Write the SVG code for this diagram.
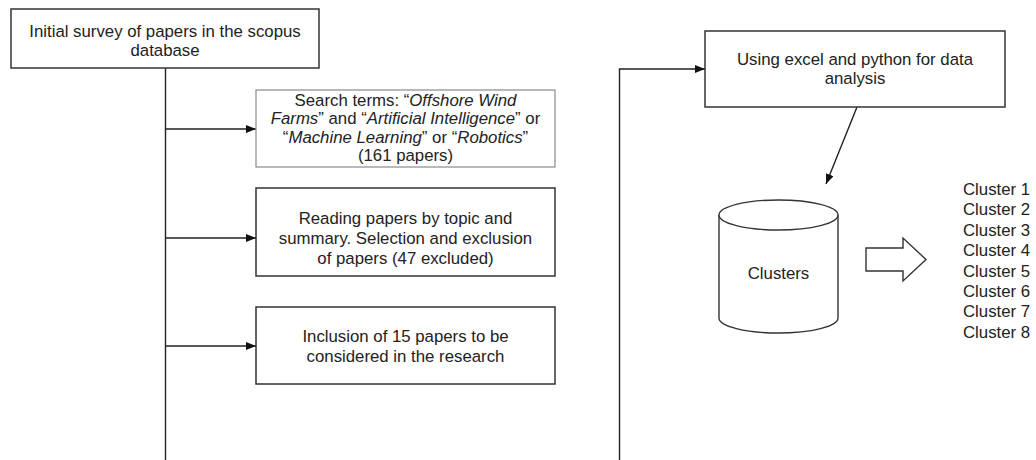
<svg xmlns="http://www.w3.org/2000/svg" width="1036" height="460" viewBox="0 0 1036 460">
<style>
.box{fill:#fff;stroke:#333;stroke-width:1.5}
.lite{fill:#fff;stroke:#8a8a8a;stroke-width:1.2}
.t{font-family:"Liberation Sans",Arial,sans-serif;font-size:16.8px;fill:#222;text-anchor:middle}
.l{font-family:"Liberation Sans",Arial,sans-serif;font-size:16.8px;fill:#222}
.c{fill:none;stroke:#222;stroke-width:1.4}
.shape{fill:#fff;stroke:#333;stroke-width:1.4}
</style>
<defs>
<marker id="ah" viewBox="0 0 10 8" refX="10" refY="4" markerWidth="10" markerHeight="8" markerUnits="userSpaceOnUse" orient="auto">
<path d="M0,0 L10,4 L0,8 Z" fill="#111"/>
</marker>
</defs>
<rect width="1036" height="460" fill="#fff"/>
<g id="connectors">
<path class="c" d="M165.5,68 V460"/>
<path class="c" d="M165.5,129 H256" marker-end="url(#ah)"/>
<path class="c" d="M165.5,238 H256" marker-end="url(#ah)"/>
<path class="c" d="M165.5,346 H256" marker-end="url(#ah)"/>
<path class="c" d="M619.5,460 V69 H705" marker-end="url(#ah)"/>
<path class="c" d="M857,107 L826,184" marker-end="url(#ah)"/>
</g>
<g id="n1">
<rect class="box" x="11" y="9" width="308" height="59"/>
<text class="t" x="165" y="37">Initial survey of papers in the scopus</text>
<text class="t" x="165" y="55.5">database</text>
</g>
<g id="n2">
<rect class="lite" x="256" y="90" width="299" height="77"/>
<text class="t" x="405.5" y="106">Search terms: “<tspan font-style="italic">Offshore Wind</tspan></text>
<text class="t" x="405.5" y="124.3"><tspan font-style="italic">Farms</tspan>” and “<tspan font-style="italic">Artificial Intelligence</tspan>” or</text>
<text class="t" x="405.5" y="142.6">“<tspan font-style="italic">Machine Learning</tspan>” or “<tspan font-style="italic">Robotics</tspan>”</text>
<text class="t" x="405.5" y="161">(161 papers)</text>
</g>
<g id="n3">
<rect class="box" x="256" y="188" width="299" height="88"/>
<text class="t" x="405.5" y="224">Reading papers by topic and</text>
<text class="t" x="405.5" y="244">summary. Selection and exclusion</text>
<text class="t" x="405.5" y="264">of papers (47 excluded)</text>
</g>
<g id="n4">
<rect class="box" x="256" y="307" width="299" height="77"/>
<text class="t" x="405.5" y="342">Inclusion of 15 papers to be</text>
<text class="t" x="405.5" y="362">considered in the research</text>
</g>
<g id="n5">
<rect class="box" x="705" y="31" width="300" height="76"/>
<text class="t" x="855" y="65">Using excel and python for data</text>
<text class="t" x="855" y="84">analysis</text>
</g>
<g id="n6">
<path class="shape" d="M719,215 V318 A59.5,15 0 0 0 838,318 V215"/>
<ellipse class="shape" cx="778.5" cy="215" rx="59.5" ry="15"/>
<text class="t" x="778.5" y="279">Clusters</text>
</g>
<g id="n7">
<path class="shape" d="M866,248 H903 V238 L926,259.5 L903,281 V271 H866 Z"/>
</g>
<g id="n8">
<text class="l" x="963" y="195">Cluster 1</text>
<text class="l" x="963" y="215.4">Cluster 2</text>
<text class="l" x="963" y="235.8">Cluster 3</text>
<text class="l" x="963" y="256.2">Cluster 4</text>
<text class="l" x="963" y="276.6">Cluster 5</text>
<text class="l" x="963" y="297">Cluster 6</text>
<text class="l" x="963" y="317.4">Cluster 7</text>
<text class="l" x="963" y="337.8">Cluster 8</text>
</g>
</svg>
